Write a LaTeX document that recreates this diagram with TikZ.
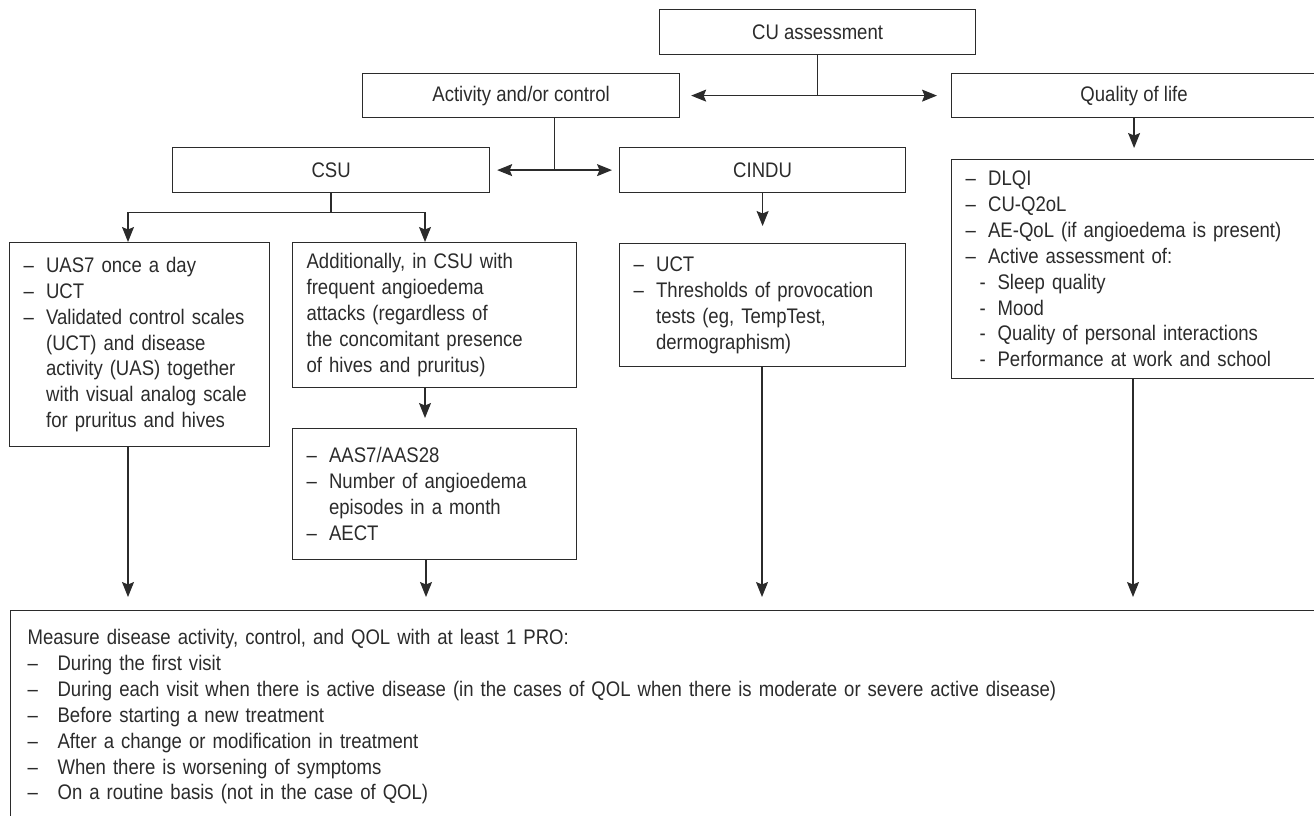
\documentclass[tikz,border=0pt]{standalone}
\usepackage{fontspec}
\setmainfont{Liberation Sans}[FakeStretch=0.88]
\usepackage{tikz}
\usetikzlibrary{arrows.meta,calc}

\definecolor{ink}{HTML}{2B2B2B}
\newlength{\dashw}
\setlength{\dashw}{0.45cm}
\newcommand{\dsh}{\makebox[\dashw][l]{–}}
\newcommand{\ind}{\hspace*{\dashw}}
\newcommand{\subdsh}{\hspace*{0.28cm}\makebox[0.36cm][l]{-}}
\newcommand{\bdsh}{\makebox[0.6cm][l]{–}}

\begin{document}
\begin{tikzpicture}[
	x=0.02cm, y=-0.02cm,
	color=ink,
	font=\fontsize{12}{14.7}\selectfont,
	head/.style={
		draw,
		line width=0.7pt,
		inner sep=0pt,
		anchor=north west,
		align=center
	},
	list/.style={
		draw,
		line width=0.7pt,
		anchor=north west,
		inner xsep=0.28cm,
		inner ysep=0.15cm,
		align=left
	},
	link/.style={line width=0.7pt},
	>={Stealth[length=3mm,width=2.4mm,inset=0.5mm]}
	]
	\useasboundingbox (0,0) rectangle (1314,815);
	% header boxes
	\node[head, minimum width=6.32cm, minimum height=0.9cm] (cu) at (659,9) {CU assessment};
	\node[head, minimum width=6.34cm, minimum height=0.88cm] (act) at (362,73) {Activity and/or control};
	\node[head, minimum width=7.3cm, minimum height=0.88cm] (qol) at (951,73) {Quality of life};
	\node[head, minimum width=6.34cm, minimum height=0.9cm] (csu) at (172,147) {CSU};
	\node[head, minimum width=5.72cm, minimum height=0.9cm] (cindu) at (619,147) {CINDU};
	% list boxes
	\node[list, text width=4.64cm, minimum height=4.08cm] (uas) at (9,242)
	{\dsh UAS7 once a day\\ \dsh UCT\\ \dsh Validated control scales\\ \ind (UCT) and disease\\ \ind activity (UAS) together\\ \ind with visual analog scale\\ \ind for pruritus and hives};
	\node[list, text width=5.12cm, minimum height=2.9cm] (add) at (292,242)
	{Additionally, in CSU with\\ frequent angioedema\\ attacks (regardless of\\ the concomitant presence\\ of hives and pruritus)};
	\node[list, text width=5.12cm, minimum height=2.62cm] (aas) at (292,428)
	{\dsh AAS7/AAS28\\ \dsh Number of angioedema\\ \ind episodes in a month\\ \dsh AECT};
	\node[list, text width=5.16cm, minimum height=2.46cm] (cilist) at (619,243)
	{\dsh UCT\\ \dsh Thresholds of provocation\\ \ind tests (eg, TempTest,\\ \ind dermographism)};
	\node[list, text width=6.74cm, minimum height=4.38cm] (qlist) at (951,159)
	{\dsh DLQI\\ \dsh CU-Q2oL\\ \dsh AE-QoL (if angioedema is present)\\ \dsh Active assessment of:\\ \subdsh Sleep quality\\ \subdsh Mood\\ \subdsh Quality of personal interactions\\ \subdsh Performance at work and school};
	\node[list, inner xsep=0.34cm, inner ysep=0.38cm, text width=25.6cm] (pro) at (10,610)
	{Measure disease activity, control, and QOL with at least 1 PRO:\\
	\bdsh During the first visit\\
	\bdsh During each visit when there is active disease (in the cases of QOL when there is moderate or severe active disease)\\
	\bdsh Before starting a new treatment\\
	\bdsh After a change or modification in treatment\\
	\bdsh When there is worsening of symptoms\\
	\bdsh On a routine basis (not in the case of QOL)};
	% connectors
	\coordinate (cuj) at (cu.south |- act.east);
	\draw[link] (cu.south) -- (cuj);
	\draw[link,->,shorten >=0.22cm] (cuj) -- (act.east);
	\draw[link,->,shorten >=0.28cm] (cuj) -- (qol.west);
	\coordinate (actj) at ($(csu.east)!0.5!(cindu.west)$);
	\draw[link] (act.south -| actj) -- (actj);
	\draw[link,->,shorten >=0.14cm] (actj) -- (csu.east);
	\draw[link,->,shorten >=0.14cm] (actj) -- (cindu.west);
	\coordinate (csuj) at ($(csu.south)+(0,19)$);
	\coordinate (uasin) at (128,0 |- uas.north);
	\coordinate (addin) at (425,0 |- add.north);
	\draw[link] (csu.south) -- (csuj);
	\draw[link,->] (csuj) -| (uasin);
	\draw[link,->] (csuj) -| (addin);
	\draw[link,->,shorten >=0.2cm] (addin |- add.south) -- (addin |- aas.north);
	\draw[link,->,shorten >=0.34cm] (cindu) -- (cilist);
	\draw[link,->,shorten >=0.22cm] (qol) -- (qlist);
	\foreach \src/\xx in {uas/128,aas/426,cilist/762,qlist/1133}
	\draw[link,->,shorten >=0.26cm] (\xx,0 |- \src.south) -- (\xx,0 |- pro.north);
\end{tikzpicture}
\end{document}
